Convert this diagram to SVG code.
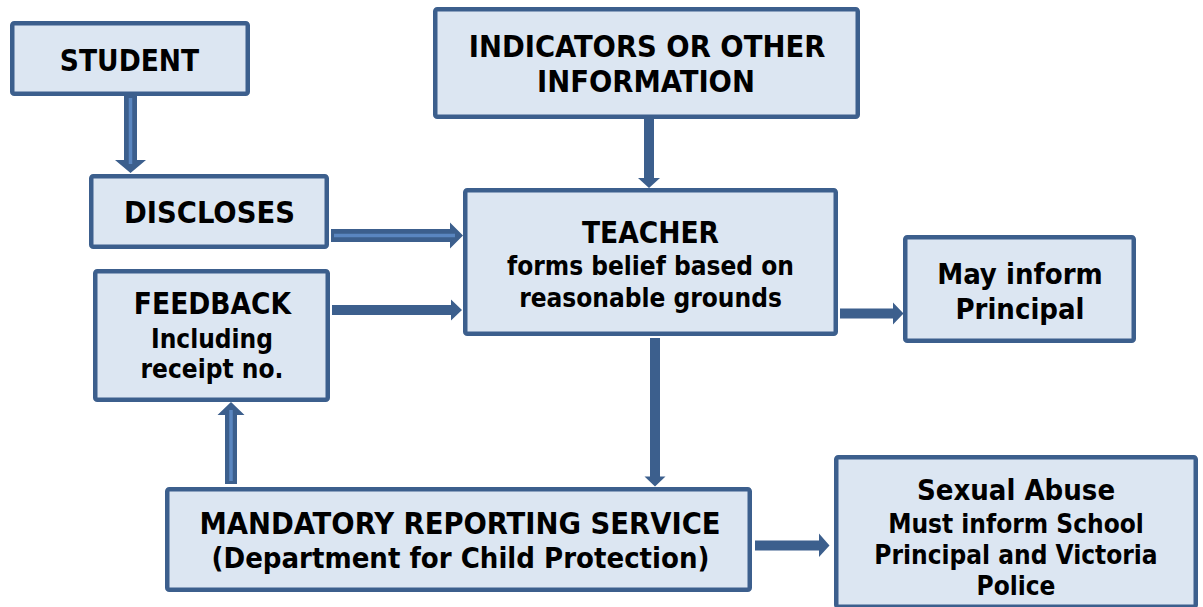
<svg xmlns="http://www.w3.org/2000/svg" width="1203" height="607" viewBox="0 0 1203 607">
<style>
.box{fill:#DCE6F2;stroke:#3C5F8D;stroke-width:4.5;}
.t{font-family:"DejaVu Sans Condensed","DejaVu Sans",sans-serif;font-weight:bold;fill:#000;text-anchor:middle;}
.h{font-size:29px;}
.c{font-size:30.5px;}
.m{font-size:29.5px;}
.s{font-size:26px;}
.arr{fill:#3C5F8D;}
.stripe{stroke:#5A86C0;stroke-width:3.5;fill:none;}
</style>
<rect width="1203" height="607" fill="#FFFFFF"/>
<g id="connectors">
  <!-- STUDENT -> DISCLOSES -->
  <polygon class="arr" points="124,95 137,95 137,160 146,160 130.5,173 115,160 124,160"/>
  <line class="stripe" x1="130.5" y1="98" x2="130.5" y2="164"/>
  <!-- DISCLOSES -> TEACHER -->
  <polygon class="arr" points="331,229 450,229 450,222.5 463,235.5 450,248.5 450,242 331,242"/>
  <line class="stripe" x1="334" y1="235.5" x2="455" y2="235.5"/>
  <!-- INDICATORS -> TEACHER -->
  <polygon class="arr" points="644,119 654,119 654,178 660,178 649,188 638,178 644,178"/>
  <!-- FEEDBACK -> TEACHER -->
  <polygon class="arr" points="332,305 451,305 451,299.5 462,310 451,320.5 451,315 332,315"/>
  <!-- TEACHER -> MAY INFORM -->
  <polygon class="arr" points="840,308.5 893,308.5 893,302.5 903.5,313.5 893,324.5 893,318.5 840,318.5"/>
  <!-- TEACHER -> MRS -->
  <polygon class="arr" points="650,338 660,338 660,476.5 665.5,476.5 655,486.5 644.5,476.5 650,476.5"/>
  <!-- MRS -> FEEDBACK -->
  <polygon class="arr" points="225,484 237,484 237,415 244.5,415 231,402 217.5,415 225,415"/>
  <line class="stripe" x1="231" y1="481" x2="231" y2="410"/>
  <!-- MRS -> SEXUAL ABUSE -->
  <polygon class="arr" points="755,540.5 819,540.5 819,533.5 829.5,545.5 819,557 819,550.5 755,550.5"/>
</g>
<g id="student">
  <rect class="box" x="12.25" y="23.25" width="235.5" height="70.5" rx="2"/>
  <text class="t m" x="129.5" y="71">STUDENT</text>
</g>
<g id="indicators">
  <rect class="box" x="435.25" y="9.25" width="422.5" height="107.5" rx="2"/>
  <text class="t c" x="647" y="57">INDICATORS OR OTHER</text>
  <text class="t c" x="646" y="92">INFORMATION</text>
</g>
<g id="discloses">
  <rect class="box" x="91.25" y="176.25" width="235.5" height="70.5" rx="2"/>
  <text class="t c" x="209.5" y="223">DISCLOSES</text>
</g>
<g id="teacher">
  <rect class="box" x="465.25" y="190.25" width="370.5" height="143.5" rx="2"/>
  <text class="t m" x="650.5" y="242.5">TEACHER</text>
  <text class="t s" x="650.5" y="275">forms belief based on</text>
  <text class="t s" x="650.5" y="306.5">reasonable grounds</text>
</g>
<g id="feedback">
  <rect class="box" x="95.25" y="271.25" width="232.5" height="128.5" rx="2"/>
  <text class="t m" x="212.5" y="314">FEEDBACK</text>
  <text class="t s" x="212" y="348">Including</text>
  <text class="t s" x="212" y="378">receipt no.</text>
</g>
<g id="may-inform">
  <rect class="box" x="905.25" y="237.25" width="228.5" height="103.5" rx="2"/>
  <text class="t h" x="1020" y="283.5">May inform</text>
  <text class="t h" x="1020" y="319">Principal</text>
</g>
<g id="mandatory-reporting">
  <rect class="box" x="167.25" y="489.25" width="582.5" height="100.5" rx="2"/>
  <text class="t c" x="460" y="533.5">MANDATORY REPORTING SERVICE</text>
  <text class="t h" x="460.5" y="568">(Department for Child Protection)</text>
</g>
<g id="sexual-abuse">
  <rect class="box" x="836.25" y="457.25" width="359.5" height="149.5" rx="2"/>
  <text class="t h" x="1016" y="499.5">Sexual Abuse</text>
  <text class="t s" x="1016" y="532.5">Must inform School</text>
  <text class="t s" x="1016" y="563.5">Principal and Victoria</text>
  <text class="t s" x="1016" y="595">Police</text>
</g>
</svg>
